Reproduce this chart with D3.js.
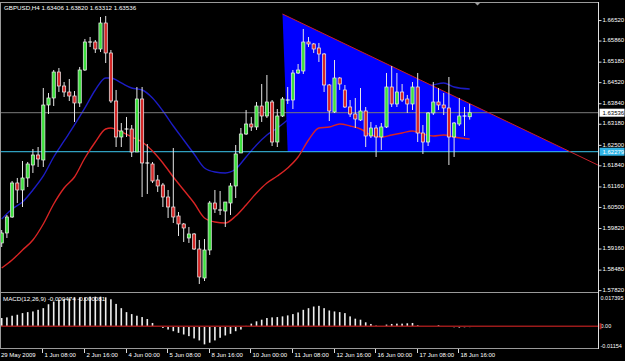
<!DOCTYPE html>
<html>
<head>
<meta charset="utf-8">
<script src="https://cdn.jsdelivr.net/npm/d3@7"></script>
<style>
  html, body { margin: 0; padding: 0; background: #000; }
  svg { display: block; }
  text { font-family: "Liberation Sans", Arial, sans-serif; }
</style>
</head>
<body>
<svg id="chart" width="625" height="361"></svg>
<script>
// GBPUSD H4, 29 May 2009 .. 19 Jun 2009 (91 bars)
const open = [
  1.59339,1.59661,1.60176,1.61272,1.61046,1.61433,1.61851,1.62174,1.62012,1.63784,
  1.64010,1.64847,1.64396,1.64203,1.64074,1.63849,1.64912,1.65814,1.65814,1.65588,
  1.66426,1.65460,1.63913,1.62753,1.63011,1.63011,1.62270,1.63978,1.61916,1.61884,
  1.61368,1.61207,1.60820,1.60498,1.60208,1.59951,1.59500,1.59629,1.59145,1.58211,
  1.59113,1.60627,1.60402,1.60369,1.60627,1.61175,1.62238,1.62850,1.63172,1.63076,
  1.63752,1.63430,1.63881,1.62592,1.63430,1.63945,1.63945,1.64815,1.64880,1.65814,
  1.65750,1.65621,1.65427,1.64429,1.63559,1.64654,1.64268,1.63720,1.63494,1.63301,
  1.63591,1.62786,1.63043,1.62753,1.63076,1.64364,1.63817,1.64203,1.63978,1.63817,
  1.64364,1.62882,1.62592,1.63527,1.63881,1.63784,1.63688,1.62753,1.63172,1.63430,
  1.63406
];
const high = [
  1.59757,1.60241,1.61336,1.61433,1.61980,1.61948,1.62367,1.62431,1.64332,1.64171,
  1.64912,1.64976,1.64525,1.64622,1.64235,1.65009,1.65911,1.65975,1.65878,1.66619,
  1.66652,1.65556,1.64268,1.63204,1.63398,1.63140,1.64364,1.64364,1.62528,1.61948,
  1.61529,1.61272,1.61046,1.62399,1.60337,1.59983,1.59854,1.59661,1.59435,1.59467,
  1.60692,1.61046,1.61014,1.60659,1.61272,1.62496,1.63043,1.63623,1.63398,1.63881,
  1.64461,1.64751,1.63945,1.63655,1.64042,1.64364,1.64912,1.65105,1.66233,1.65975,
  1.65782,1.65782,1.65460,1.64461,1.65234,1.64686,1.64429,1.63945,1.64010,1.64332,
  1.63720,1.63237,1.63140,1.63204,1.64815,1.65041,1.64815,1.64461,1.64107,1.64525,
  1.64815,1.63140,1.63559,1.64525,1.64332,1.64171,1.64686,1.63237,1.64010,1.63720,
  1.63820
];
const low = [
  1.59210,1.59500,1.60144,1.60627,1.60498,1.61143,1.61594,1.61787,1.61787,1.63494,
  1.63752,1.64203,1.64042,1.63913,1.63237,1.63720,1.64880,1.65653,1.65460,1.65492,
  1.65137,1.63849,1.62431,1.62431,1.62753,1.62109,1.62270,1.60820,1.60917,1.61272,
  1.60982,1.60498,1.60144,1.59983,1.59564,1.59371,1.59339,1.59113,1.58018,1.58114,
  1.58952,1.60305,1.60241,1.59854,1.60241,1.60788,1.62238,1.62818,1.62947,1.62979,
  1.63237,1.63366,1.62463,1.62431,1.63398,1.63817,1.63655,1.64783,1.64783,1.65653,
  1.65460,1.65170,1.64203,1.63269,1.63527,1.64268,1.63688,1.63398,1.63043,1.63269,
  1.62431,1.62721,1.62109,1.62335,1.63043,1.63720,1.63720,1.63881,1.63527,1.63623,
  1.62592,1.62206,1.62463,1.63462,1.63623,1.63462,1.61851,1.62109,1.63108,1.62786,
  1.63312
];
const close = [
  1.59661,1.60176,1.61272,1.61046,1.61433,1.61884,1.62174,1.62045,1.63784,1.64010,
  1.64847,1.64396,1.64203,1.64074,1.63849,1.64912,1.65814,1.65814,1.65588,1.66426,
  1.65460,1.63913,1.62753,1.62947,1.63011,1.62270,1.63978,1.61916,1.61916,1.61336,
  1.61175,1.60820,1.60498,1.60176,1.59951,1.59822,1.59629,1.59145,1.58243,1.59113,
  1.60627,1.60434,1.60402,1.60659,1.61175,1.62206,1.62850,1.63172,1.63076,1.63752,
  1.63430,1.63881,1.62592,1.63430,1.63978,1.63945,1.64815,1.64912,1.65814,1.65750,
  1.65588,1.65427,1.64429,1.63591,1.64654,1.64461,1.63720,1.63494,1.63333,1.63591,
  1.62786,1.63043,1.62753,1.63076,1.64364,1.63817,1.64203,1.63945,1.63817,1.64364,
  1.62882,1.62592,1.63527,1.63881,1.63784,1.63688,1.62753,1.63204,1.63430,1.63430,
  1.63536
];

// moving averages: [bar, price]
const maBlue = [
  [0,1.60112],[2,1.60434],[4,1.60659],[6,1.61046],[8,1.61497],[10,1.62109],[12,1.62625],
  [14,1.63140],[16,1.63688],[18,1.64268],[20,1.64654],[21,1.64654],[23,1.64493],[25,1.64332],
  [27,1.64268],[29,1.64010],[31,1.63591],[33,1.63108],[35,1.62657],[37,1.62206],[39,1.61755],
  [41,1.61626],[43,1.61594],[45,1.61722],[47,1.62109],[49,1.62496],[51,1.62818],[53,1.63043],
  [55,1.63301],[58,1.63688],[61,1.64042],[64,1.64268],[67,1.64268],[70,1.64171],[73,1.64107],
  [76,1.64171],[79,1.64300],[82,1.64396],[83,1.64429],[85,1.64493],[87,1.64364],[90,1.64300]
];
const maRed = [
  [0,1.58533],[2,1.58791],[4,1.59113],[6,1.59435],[8,1.59951],[10,1.60595],[12,1.61110],
  [14,1.61465],[16,1.62077],[18,1.62592],[20,1.63011],[21,1.63043],[23,1.62915],[25,1.62753],
  [27,1.62592],[29,1.62302],[31,1.61916],[33,1.61465],[35,1.61046],[37,1.60627],[39,1.60144],
  [41,1.60015],[43,1.59983],[45,1.60208],[47,1.60563],[49,1.60949],[51,1.61272],[53,1.61497],
  [55,1.61755],[57,1.62109],[59,1.62657],[61,1.63043],[63,1.63076],[65,1.63172],[67,1.63108],
  [69,1.63011],[71,1.62818],[73,1.62753],[75,1.62818],[77,1.62882],[79,1.62947],[81,1.62850],
  [83,1.62786],[85,1.62818],[87,1.62753],[90,1.62689]
];

// MACD(12,26,9) main histogram
const macd = [
  0.00458,0.00494,0.00586,0.00641,0.00732,0.00787,0.00824,0.00915,0.01007,0.01226,
  0.01373,0.01464,0.01519,0.01556,0.01592,0.01610,0.01610,0.01647,0.01647,0.01647,
  0.01610,0.01501,0.01244,0.01007,0.00787,0.00677,0.00586,0.00512,0.00403,0.00183,
  -0.00040,-0.00092,-0.00183,-0.00275,-0.00366,-0.00458,-0.00549,-0.00677,-0.00787,-0.01007,
  -0.00915,-0.00787,-0.00641,-0.00512,-0.00421,-0.00275,-0.00183,0.00020,0.00146,0.00275,
  0.00366,0.00458,0.00494,0.00512,0.00549,0.00604,0.00677,0.00769,0.00915,0.01007,
  0.01098,0.01135,0.01007,0.00878,0.00824,0.00787,0.00732,0.00549,0.00421,0.00366,
  0.00220,0.00128,0.00037,0.00010,0.00092,0.00128,0.00146,0.00146,0.00165,0.00183,
  0.00055,0.00005,-0.00005,0.00010,0.00055,-0.00010,-0.00037,-0.00055,-0.00073,-0.00055,
  -0.00047
];

const priceTicks = [1.66520,1.65860,1.65180,1.64520,1.63840,1.63180,1.62500,1.61840,1.61160,1.60500,1.59820,1.59160,1.58480,1.57820];
const timeTicks = [
  {bar: 8, label: "1 Jun 08:00"}, {bar: 16, label: "2 Jun 16:00"}, {bar: 24, label: "4 Jun 00:00"},
  {bar: 32, label: "5 Jun 08:00"}, {bar: 40, label: "8 Jun 16:00"}, {bar: 48, label: "10 Jun 00:00"},
  {bar: 56, label: "11 Jun 08:00"}, {bar: 64, label: "12 Jun 16:00"}, {bar: 72, label: "16 Jun 00:00"},
  {bar: 80, label: "17 Jun 08:00"}, {bar: 88, label: "18 Jun 16:00"}
];
const bidPrice = 1.63536;
const hLinePrice = 1.62279;
// triangle object and trendline anchors [bar, price]
const triangle = [[54, 1.66716], [109.3, 1.62279], [55, 1.62279]];
const trendLine = [[54, 1.66716], [109.3, 1.62279]];

const svg = d3.select("#chart");
const W = 625, H = 361;
const axisX = 598.5;

const x = d3.scaleLinear().domain([0, 90]).range([1.7, 469.7]);
const y = d3.scaleLinear().domain([1.57792, 1.67070]).range([291, 3]);
const ym = d3.scaleLinear().domain([-0.01154, 0.017395]).range([347, 295]);

svg.append("rect").attr("width", W).attr("height", H).attr("fill", "#000");

const defs = svg.append("defs");
defs.append("clipPath").attr("id", "mainClip")
  .append("rect").attr("x", 1).attr("y", 3).attr("width", axisX - 1).attr("height", 288);
defs.append("clipPath").attr("id", "macdClip")
  .append("rect").attr("x", 1).attr("y", 293).attr("width", axisX - 1).attr("height", 55);

const main = svg.append("g").attr("clip-path", "url(#mainClip)");

// blue MA sits under the triangle
const line = d3.line().x(d => x(d[0])).y(d => y(d[1])).curve(d3.curveMonotoneX);
main.append("path").datum(maBlue)
  .attr("d", line).attr("fill", "none").attr("stroke", "#1c1cc4").attr("stroke-width", 1.4);

main.append("path")
  .attr("d", "M" + triangle.map(d => [x(d[0]), y(d[1])].join(",")).join("L") + "Z")
  .attr("fill", "#0000ff");

// horizontal lines
main.append("line").attr("x1", 1).attr("x2", axisX)
  .attr("y1", y(bidPrice)).attr("y2", y(bidPrice))
  .attr("stroke", "#7a7a7a").attr("stroke-width", 1);
main.append("line").attr("x1", 1).attr("x2", axisX)
  .attr("y1", y(hLinePrice)).attr("y2", y(hLinePrice))
  .attr("stroke", "#3cc8f0").attr("stroke-width", 1);

main.append("path").datum(maRed)
  .attr("d", line).attr("fill", "none").attr("stroke", "#d82424").attr("stroke-width", 1.4);

// trendline as a ray to the right edge
{
  const [a, b] = trendLine;
  const x1 = x(a[0]), y1 = y(a[1]), x2 = x(b[0]), y2 = y(b[1]);
  const slope = (y2 - y1) / (x2 - x1);
  main.append("line").attr("x1", x1).attr("y1", y1)
    .attr("x2", axisX).attr("y2", y1 + slope * (axisX - x1))
    .attr("stroke", "#c8202a").attr("stroke-width", 1);
}

// candles
const bars = d3.range(open.length).map(i => ({i, o: open[i], h: high[i], l: low[i], c: close[i]}));
const cg = main.append("g");
cg.selectAll("line.wick").data(bars).join("line")
  .attr("class", "wick")
  .attr("x1", d => x(d.i)).attr("x2", d => x(d.i))
  .attr("y1", d => y(d.h)).attr("y2", d => y(d.l))
  .attr("stroke", "#e6e6e6").attr("stroke-width", 1);
cg.selectAll("rect.body").data(bars.filter(d => d.o !== d.c)).join("rect")
  .attr("class", "body")
  .attr("x", d => x(d.i) - 1.6).attr("width", 3.2)
  .attr("y", d => y(Math.max(d.o, d.c)))
  .attr("height", d => Math.max(1, Math.abs(y(d.o) - y(d.c))))
  .attr("fill", d => d.c > d.o ? "#3ee03e" : "#d42828")
  .attr("stroke", "#eeeeee").attr("stroke-width", 0.7);
cg.selectAll("line.doji").data(bars.filter(d => d.o === d.c)).join("line")
  .attr("class", "doji")
  .attr("x1", d => x(d.i) - 2).attr("x2", d => x(d.i) + 2)
  .attr("y1", d => y(d.o)).attr("y2", d => y(d.o))
  .attr("stroke", "#ffffff").attr("stroke-width", 1.2);

// MACD window
const mg = svg.append("g").attr("clip-path", "url(#macdClip)");
mg.selectAll("rect").data(macd).join("rect")
  .attr("x", (d, i) => x(i) - 0.8).attr("width", 1.6)
  .attr("y", d => Math.min(ym(d), ym(0)))
  .attr("height", d => Math.abs(ym(d) - ym(0)))
  .attr("fill", "#f0f0f0");
mg.append("line").attr("x1", 1).attr("x2", axisX)
  .attr("y1", ym(0)).attr("y2", ym(0))
  .attr("stroke", "#9a1a1a").attr("stroke-width", 1.3);

// frame
const frame = svg.append("g").attr("stroke", "#9a9a9a").attr("stroke-width", 1).attr("fill", "none");
frame.append("line").attr("x1", 0).attr("x2", axisX).attr("y1", 2.5).attr("y2", 2.5);
frame.append("line").attr("x1", 0.5).attr("x2", 0.5).attr("y1", 2.5).attr("y2", 348.5);
frame.append("line").attr("x1", 0).attr("x2", axisX).attr("y1", 292.5).attr("y2", 292.5);
frame.append("line").attr("x1", 0).attr("x2", axisX).attr("y1", 348.5).attr("y2", 348.5);
svg.append("line").attr("x1", axisX).attr("x2", axisX).attr("y1", 2).attr("y2", 349)
  .attr("stroke", "#e0e0e0").attr("stroke-width", 1);

// chart shift marker
svg.append("path").attr("d", "M474.5,2.5 L480.5,2.5 L477.5,5.5 Z").attr("fill", "#a0a0a0");

// price axis
const pAxis = svg.append("g").attr("transform", `translate(${axisX},0)`)
  .call(d3.axisRight(y).tickValues(priceTicks).tickFormat(d3.format(".5f")).tickSize(3).tickPadding(1));
pAxis.select(".domain").remove();
pAxis.selectAll(".tick line").attr("stroke", "#ddd");
pAxis.selectAll(".tick text").attr("fill", "#fff").attr("font-size", 6)
  .attr("font-family", "Liberation Sans, Arial, sans-serif").attr("dy", "0.2em");

function priceTag(p, bg, fg) {
  const g = svg.append("g").attr("transform", `translate(${axisX + 1},${y(p)})`);
  g.append("rect").attr("x", 0).attr("y", -4).attr("width", 25).attr("height", 8).attr("fill", bg);
  g.append("text").attr("x", 3).attr("y", 0).attr("dy", "0.33em")
    .attr("font-size", 6).attr("fill", fg).text(d3.format(".5f")(p));
}
priceTag(bidPrice, "#ffffff", "#000000");
priceTag(hLinePrice, "#30b4e6", "#ffffff");

// MACD axis labels
const mLabels = [
  {v: 0.017395, t: "0.017395"}, {v: 0, t: "0.00"}, {v: -0.01154, t: "-0.01154"}
];
svg.append("g").selectAll("text").data(mLabels).join("text")
  .attr("x", axisX + 2).attr("y", d => ym(d.v) + (d.v > 0 ? 3 : d.v < 0 ? -1 : 0))
  .attr("dy", "0.33em").attr("font-size", 5.5).attr("fill", "#fff").text(d => d.t);
svg.append("rect").attr("x", axisX + 1).attr("y", ym(0) - 3).attr("width", 2).attr("height", 6).attr("fill", "#b02020");

// time axis
const tg = svg.append("g");
tg.append("text").attr("x", 1).attr("y", 356.5).attr("font-size", 6).attr("fill", "#fff").text("29 May 2009");
timeTicks.forEach(t => {
  const tx = Math.round(x(t.bar)) - 0.5;
  tg.append("line").attr("x1", tx).attr("x2", tx).attr("y1", 349).attr("y2", 353)
    .attr("stroke", "#ddd").attr("stroke-width", 1);
  tg.append("text").attr("x", tx + 2).attr("y", 356.5).attr("font-size", 6).attr("fill", "#fff").text(t.label);
});

// headers
svg.append("text").attr("x", 4).attr("y", 10).attr("font-size", 6.2).attr("fill", "#fff")
  .text("GBPUSD,H4  1.63406 1.63820 1.63312 1.63536");
svg.append("text").attr("x", 3).attr("y", 301).attr("font-size", 6.2).attr("fill", "#fff")
  .text("MACD(12,26,9) -0.000474 -0.000081");
</script>
</body>
</html>
